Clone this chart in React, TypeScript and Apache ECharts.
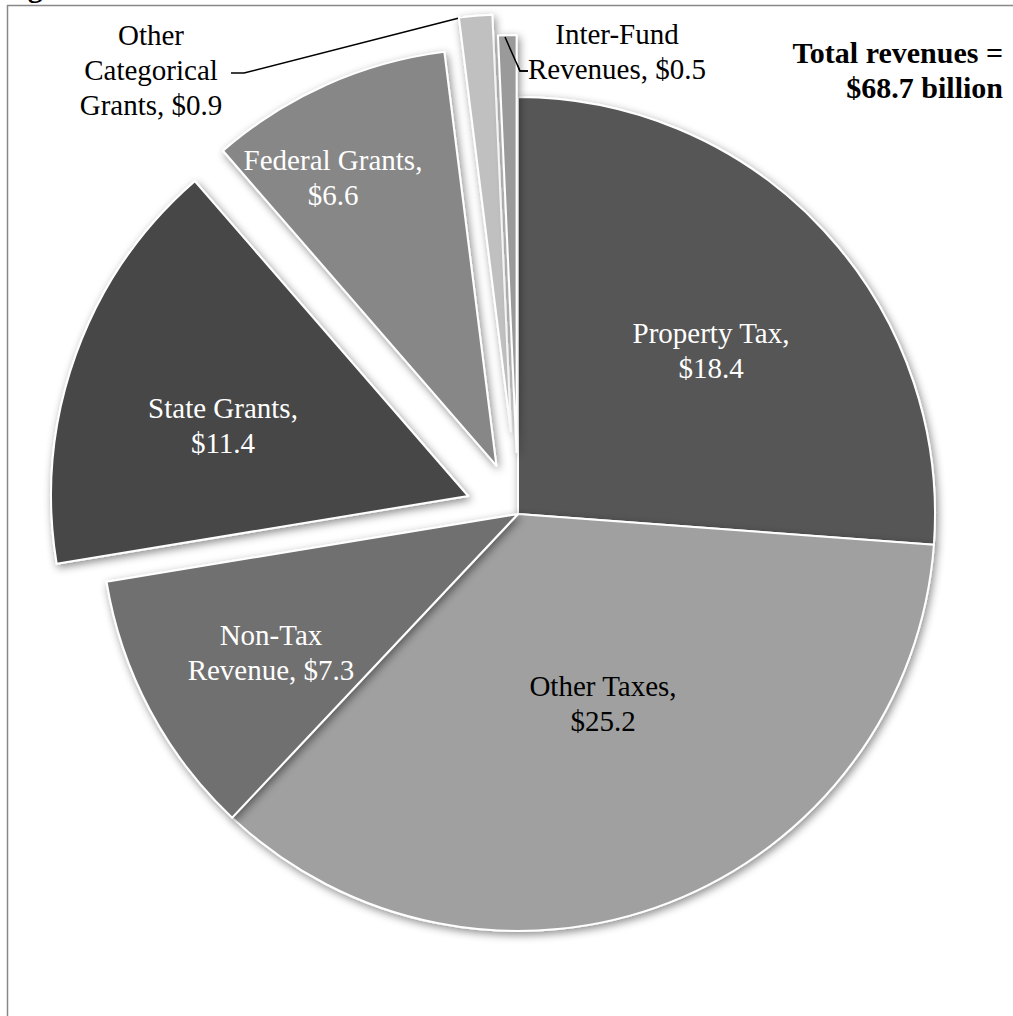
import React, { useEffect, useRef } from "react";
import * as echarts from "echarts";

// ---- data ----
const categories = [
  "Property Tax",
  "Other Taxes",
  "Non-Tax Revenue",
  "State Grants",
  "Federal Grants",
  "Other Categorical Grants",
  "Inter-Fund Revenues",
];
const values = [18.4, 25.2, 7.3, 11.4, 6.6, 0.9, 0.5];
// label templates ({v} replaced by the value)
const labelTemplates = [
  "Property Tax,\n${v}",
  "Other Taxes,\n${v}",
  "Non-Tax\nRevenue, ${v}",
  "State Grants,\n${v}",
  "Federal Grants,\n${v}",
  "Other\nCategorical\nGrants, ${v}",
  "Inter-Fund\nRevenues, ${v}",
];
const totalText = "Total revenues =\n$68.7 billion";
const titleFragment = "Figure 1";

// ---- styles / layout ----
const COLORS = ["#575757", "#a0a0a0", "#707070", "#474747", "#878787", "#c0c0c0", "#9a9a9a"];
const TEXT_COLORS = ["#ffffff", "#000000", "#ffffff", "#ffffff", "#ffffff", "#000000", "#000000"];
const EXPLODE = [0, 0, 0, 53, 53, 83, 62];
const OUTSIDE = [false, false, false, false, false, true, true];
const LABEL_POS: [number, number][] = [
  [711, 350],
  [603, 703],
  [271, 652],
  [223, 425],
  [333, 177],
  [151, 70],
  [617, 51],
];
const LEADER_POINTS: Record<number, [number, number][]> = {
  5: [
    [463, 17],
    [244, 73],
    [231, 73],
  ],
  6: [
    [505, 37],
    [520, 71],
    [528, 71],
  ],
};
const CX = 518;
const CY = 514;
const R = 417;
const FONT = "Liberation Serif";

export default function App() {
  const ref = useRef<HTMLDivElement>(null);
  useEffect(() => {
    if (!ref.current) return;
    const chart = echarts.init(ref.current, undefined, { renderer: "svg" });
    const total = values.reduce((a, b) => a + b, 0);
    const midAngle = (i: number) => {
      let s = 0;
      for (let j = 0; j < i; j++) s += values[j];
      return ((s + values[i] / 2) / total) * 2 * Math.PI;
    };
    // groups: base (no explode) + each exploded slice
    const groups: number[][] = [[]];
    values.forEach((_, i) => {
      if (EXPLODE[i] > 0) groups.push([i]);
      else groups[0].push(i);
    });
    const series = groups.map((owned) => {
      const off = owned.length === 1 ? EXPLODE[owned[0]] : 0;
      const a = owned.length === 1 ? midAngle(owned[0]) : 0;
      const center = [CX + off * Math.sin(a), CY - off * Math.cos(a)];
      return {
        type: "pie",
        startAngle: 90,
        clockwise: true,
        radius: R,
        center,
        silent: true,
        avoidLabelOverlap: false,
        emphasis: { disabled: true },
        data: values.map((v, i) => {
          const own = owned.includes(i);
          return {
            name: categories[i],
            value: v,
            itemStyle: own
              ? {
                  color: COLORS[i],
                  borderColor: "#ffffff",
                  borderWidth: 2,
                  shadowBlur: 8,
                  shadowColor: "rgba(0,0,0,0.45)",
                  shadowOffsetX: 2,
                  shadowOffsetY: 3,
                }
              : { color: "rgba(0,0,0,0)", borderWidth: 0, shadowBlur: 0 },
            label: own
              ? {
                  show: true,
                  position: OUTSIDE[i] ? "outside" : "inside",
                  color: TEXT_COLORS[i],
                  fontFamily: FONT,
                  fontSize: 29,
                  lineHeight: 35,
                  align: "center",
                  formatter: () => labelTemplates[i].replace("{v}", values[i].toFixed(1)),
                }
              : { show: false },
            labelLine:
              own && OUTSIDE[i]
                ? {
                    show: true,
                    showAbove: true,
                    length: 10,
                    length2: 12,
                    smooth: false,
                    lineStyle: { color: "#000", width: 1.5 },
                  }
                : { show: false },
          };
        }),
        labelLayout: (params: any) => {
          const i = params.dataIndex;
          const p = LABEL_POS[i];
          const out: any = { x: p[0], y: p[1], align: "center", verticalAlign: "middle" };
          if (LEADER_POINTS[i]) out.labelLinePoints = LEADER_POINTS[i];
          return out;
        },
      };
    });
    chart.setOption({
      animation: false,
      backgroundColor: "#ffffff",
      graphic: [
        {
          type: "line",
          shape: { x1: 7.5, y1: 5, x2: 7.5, y2: 1016 },
          style: { stroke: "#888888", lineWidth: 1.5 },
        },
        {
          type: "line",
          shape: { x1: 7, y1: 5.5, x2: 1013, y2: 5.5 },
          style: { stroke: "#888888", lineWidth: 1.5 },
        },
        {
          type: "text",
          x: 1,
          y: 1.5,
          style: {
            text: titleFragment,
            font: `bold 30px ${FONT}`,
            fill: "#000",
            verticalAlign: "bottom",
          },
        },
        {
          type: "polyline",
          z: 100,
          shape: { points: LEADER_POINTS[6] },
          style: { stroke: "#000", lineWidth: 1.5, fill: "none" },
        },
        {
          type: "text",
          x: 1003,
          y: 35,
          z: 100,
          style: {
            text: totalText,
            font: `bold 30px ${FONT}`,
            lineHeight: 35,
            fill: "#000",
            align: "right",
            verticalAlign: "top",
          },
        },
      ],
      series,
    });
    return () => chart.dispose();
  }, []);
  return (
    <div
      ref={ref}
      style={{ position: "fixed", left: 0, top: 0, width: 1013, height: 1016 }}
    />
  );
}
